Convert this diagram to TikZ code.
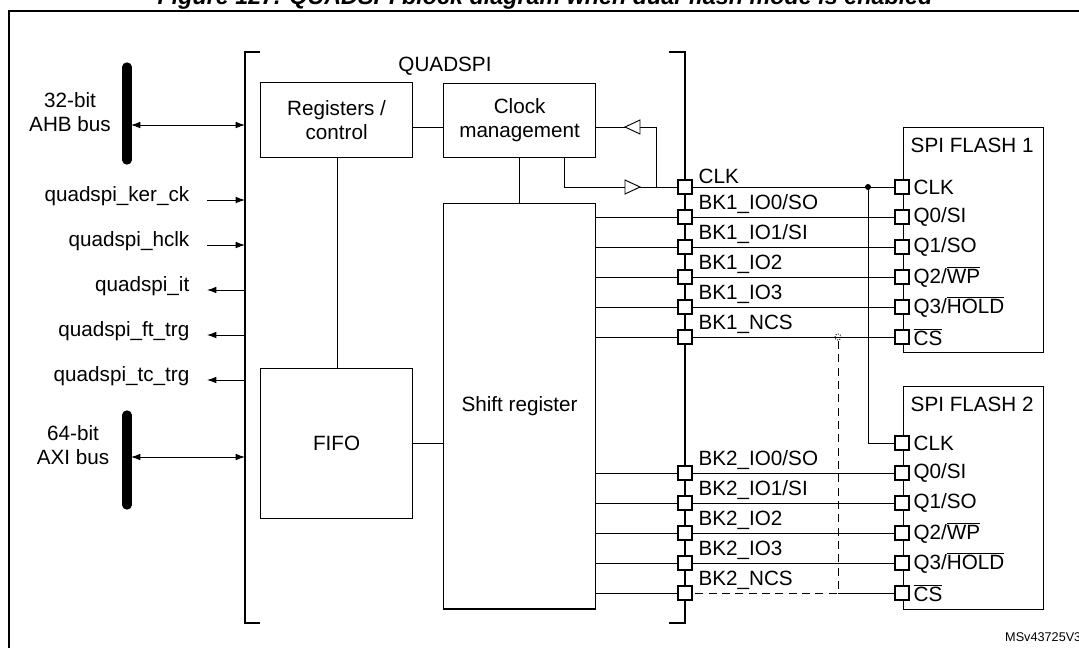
\documentclass[tikz,border=0pt]{standalone}
\usepackage{fontspec}
\setmainfont{Liberation Sans}
\usetikzlibrary{arrows.meta}
\begin{document}
\begin{tikzpicture}[x=0.75pt,y=-0.75pt,
  every node/.style={font=\fontsize{15.5}{18}\selectfont},
  box/.style={draw,line width=0.9pt,inner sep=0pt},
  pin/.style={draw,fill=white,line width=0.8pt,minimum size=10.5pt,inner sep=0pt},
  wire/.style={line width=0.7pt},
  arr/.style={wire,-{Latex[length=7pt,width=5pt]}},
  darr/.style={wire,{Latex[length=7pt,width=5pt]}-{Latex[length=7pt,width=5pt]}},
  bus/.style={line width=7pt,line cap=round},
  lbl/.style={anchor=south west,inner sep=1pt},
  buf/.style={draw,fill=white,line width=0.7pt}]
\useasboundingbox (0,0) rectangle (1079,647);
% title and frame
\node[font=\fontsize{17.5}{20}\bfseries\itshape\selectfont] (title) at (545,-2) {Figure 127. QUADSPI block diagram when dual-flash mode is enabled};
\draw[line width=1.3pt] (9,660) -- (9,11) -- (1090,11);
\node[anchor=east,font=\fontsize{9.5}{11}\selectfont] (ref) at (1086,637) {MSv43725V3};
% brackets
\draw[line width=0.9pt] (260,52) -- (245,52) -- (245,623) -- (260,623);
\draw[line width=0.9pt] (669,52) -- (685,52) -- (685,623) -- (669,623);
\node (qs) at (445,66) {QUADSPI};
% blocks
\node[box,minimum width=114pt,minimum height=56pt,align=center,anchor=north west] (reg) at (260,82) {Registers /\\control};
\node[box,minimum width=114pt,minimum height=55.5pt,align=center,anchor=north west] (clk) at (443,83) {Clock\\management};
\node[box,minimum width=114pt,minimum height=112.5pt,anchor=north west] (fifo) at (260,368) {FIFO};
\node[box,minimum width=114pt,minimum height=304pt,anchor=north west] (sh) at (443,203) {Shift register};
\draw[wire] (reg.east |- 0,127) -- (clk.west |- 0,127);
\draw[wire] (reg.south -| 337,0) -- (fifo.north -| 337,0);
\draw[wire] (fifo.east |- 0,443) -- (sh.west |- 0,443);
\draw[wire] (clk.south -| 519,0) -- (sh.north -| 519,0);
% buses
\draw[bus] (127,67) -- (127,160);
\draw[bus] (127,415) -- (127,505);
\node[align=center] (ahb) at (70,112) {32-bit\\AHB bus};
\node[align=center] (axi) at (73,445) {64-bit\\AXI bus};
\coordinate (ahbE) at (131,125); \coordinate (ahbQ) at (245,125);
\coordinate (axiE) at (131,457); \coordinate (axiQ) at (245,457);
\draw[darr] (ahbE) -- (ahbQ);
\draw[darr] (axiE) -- (axiQ);
% side signals
\foreach \t/\y [count=\i] in {quadspi\_ker\_ck/200,quadspi\_hclk/245,quadspi\_it/290,quadspi\_ft\_trg/335,quadspi\_tc\_trg/380}{
  \node[anchor=east] (s\i) at (194,\y-4) {\t};
  \coordinate (sa\i) at (207,\y); \coordinate (sb\i) at (245,\y);
}
\draw[arr] (sa1) -- (sb1); \draw[arr] (sa2) -- (sb2);
\draw[arr] (sb3) -- (sa3); \draw[arr] (sb4) -- (sa4); \draw[arr] (sb5) -- (sa5);
% QUADSPI pins
\foreach \n/\y/\t in {pc/187/{CLK},p10/217/{BK1\_IO0/SO},p11/247/{BK1\_IO1/SI},p12/277/{BK1\_IO2},p13/307/{BK1\_IO3},p1n/337/{BK1\_NCS},
  p20/473/{BK2\_IO0/SO},p21/503/{BK2\_IO1/SI},p22/533/{BK2\_IO2},p23/563/{BK2\_IO3},p2n/593/{BK2\_NCS}}{
  \node[pin] (\n) at (685,\y) {};
  \node[lbl] (\n l) at (697,\y-2) {\t};
}
% flash boxes
\node[box,minimum width=105pt,minimum height=168.75pt,anchor=north west] (f1) at (903,127) {};
\node[box,minimum width=105pt,minimum height=167pt,anchor=north west] (f2) at (903,386) {};
\node[anchor=north west] (f1t) at (906,133) {SPI FLASH 1};
\node[anchor=north west] (f2t) at (906,392) {SPI FLASH 2};
\foreach \f/\b in {a/187,b/443}{
  \foreach \n/\o/\t in {c/0/{CLK},0/30/{Q0/SI},1/60/{Q1/SO},2/90/{Q2/$\overline{\mbox{WP}}$},3/120/{Q3/$\overline{\mbox{HOLD}}$},n/150/{$\overline{\mbox{CS}}$}}{
    \node[pin] (\f\n) at (902,\b+\o) {};
    \node[anchor=west,inner sep=1pt] (\f\n l) at (912,\b+\o) {\t};
  }
}
% shift register data lines
\foreach \p/\q in {p10/a0,p11/a1,p12/a2,p13/a3,p1n/an}{
  \draw[wire] (sh.east |- \p) -- (\p); \draw[wire] (\p) -- (\q);
}
\foreach \p/\q in {p20/b0,p21/b1,p22/b2,p23/b3}{
  \draw[wire] (sh.east |- \p) -- (\p); \draw[wire] (\p) -- (\q);
}
\draw[wire] (sh.east |- p2n) -- (p2n);
% clock wiring
\coordinate (jd) at (868,187);
\draw[wire] (pc) -- (ac);
\fill (jd) circle (3);
\draw[wire] (jd) |- (bc);
\coordinate (co) at (564,157); \coordinate (ci) at (656,187);
\draw[wire] (co) -- (564,187) -- (pc);
\draw[wire] (ci) -- (656,127) -- (clk.east |- 0,127);
\draw[buf] (625,180) -- (640,187) -- (625,194) -- cycle;
\draw[buf] (640,120) -- (625,127) -- (640,134) -- cycle;
% chip select dashed
\coordinate (dj) at (838,337); \coordinate (db) at (838,593);
\draw[wire,densely dotted] (dj) circle (3);
\draw[wire,dash pattern=on 6pt off 4pt] (dj) ++(0,4) -- (db) -- (p2n.east);
\draw[wire] (db) -- (bn);
\end{tikzpicture}
\end{document}
